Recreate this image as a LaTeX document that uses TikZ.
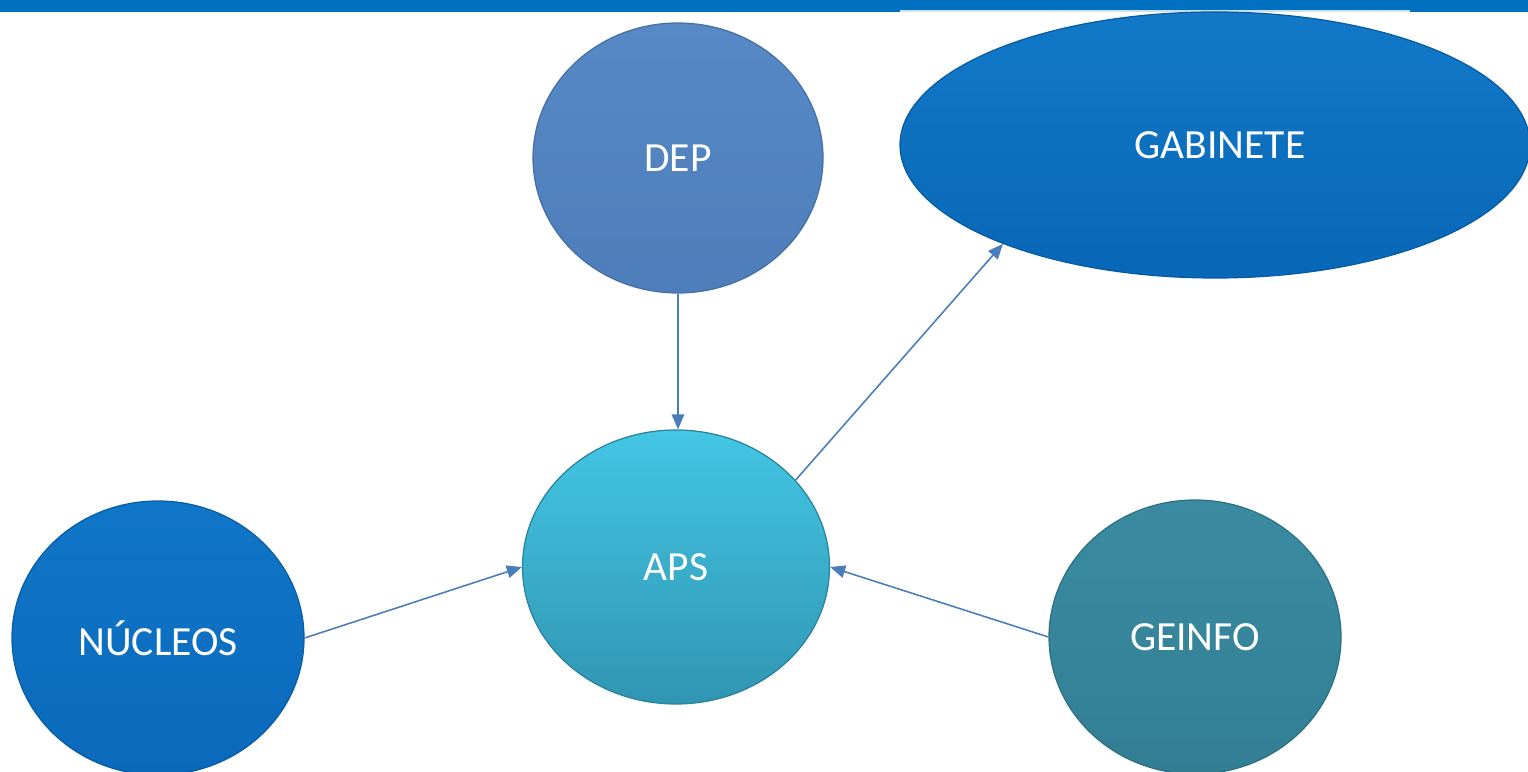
\documentclass[tikz,border=0pt]{standalone}
\usepackage{fontspec}
\setmainfont{Carlito}
\usetikzlibrary{shapes.geometric,arrows.meta}

\definecolor{barBlue}{HTML}{0070C0}
\definecolor{arrowBlue}{HTML}{4A7EBB}
\definecolor{depTop}{HTML}{5689C6}
\definecolor{depBottom}{HTML}{4E7EBA}
\definecolor{gabTop}{HTML}{1179C8}
\definecolor{gabBottom}{HTML}{0867B6}
\definecolor{apsTop}{HTML}{43C6E4}
\definecolor{apsBottom}{HTML}{3095B2}
\definecolor{nucTop}{HTML}{1076C8}
\definecolor{nucBottom}{HTML}{0A69BA}
\definecolor{geiTop}{HTML}{3A8BA2}
\definecolor{geiBottom}{HTML}{327F94}

\tikzset{
	bubble/.style = {ellipse, draw = #1Bottom!88!black, line width = 0.35pt,
		top color = #1Top, bottom color = #1Bottom, text = white,
		font = \fontsize{11.8}{14}\selectfont, inner sep = 0pt},
	link/.style = {draw = arrowBlue, line width = 0.45pt,
		-{Triangle[length = 4.3pt, width = 3.6pt]}}
}

\begin{document}
\begin{tikzpicture}

	\useasboundingbox (0, 0) rectangle (15.28, 7.71);

	% blue bar along the top edge
	\fill[barBlue] (0, 7.59) rectangle (15.28, 7.71);
	\draw[white!80!barBlue, line width = 0.6pt] (9.00, 7.60) -- (14.10, 7.60);

	% circles around the centre
	\def\circleW{2.92}
	\def\circleH{2.74}

	\node[bubble = dep, minimum width = 2.90cm, minimum height = 2.70cm] (dep) at (6.78, 6.13) {DEP};
	\node[bubble = gab, minimum width = 6.30cm, minimum height = 2.66cm] (gabinete) at (12.15, 6.26) {\hspace{0.1cm}GABINETE};
	\node[bubble = aps, minimum width = 3.07cm, minimum height = \circleH cm] (aps) at (6.76, 2.04) {APS};
	\node[bubble = nuc, minimum width = \circleW cm, minimum height = \circleH cm] (nucleos) at (1.58, 1.33) {NÚCLEOS};
	\node[bubble = gei, minimum width = \circleW cm, minimum height = \circleH cm] (geinfo) at (11.95, 1.34) {GEINFO};

	% arrows
	\draw[link] (dep.south) -- (dep.south |- aps.north);
	\draw[link] (aps.36) -- (gabinete.205);
	\draw[link] (nucleos.0) -- (aps.180);
	\draw[link] (geinfo.180) -- (aps.0);

\end{tikzpicture}
\end{document}
